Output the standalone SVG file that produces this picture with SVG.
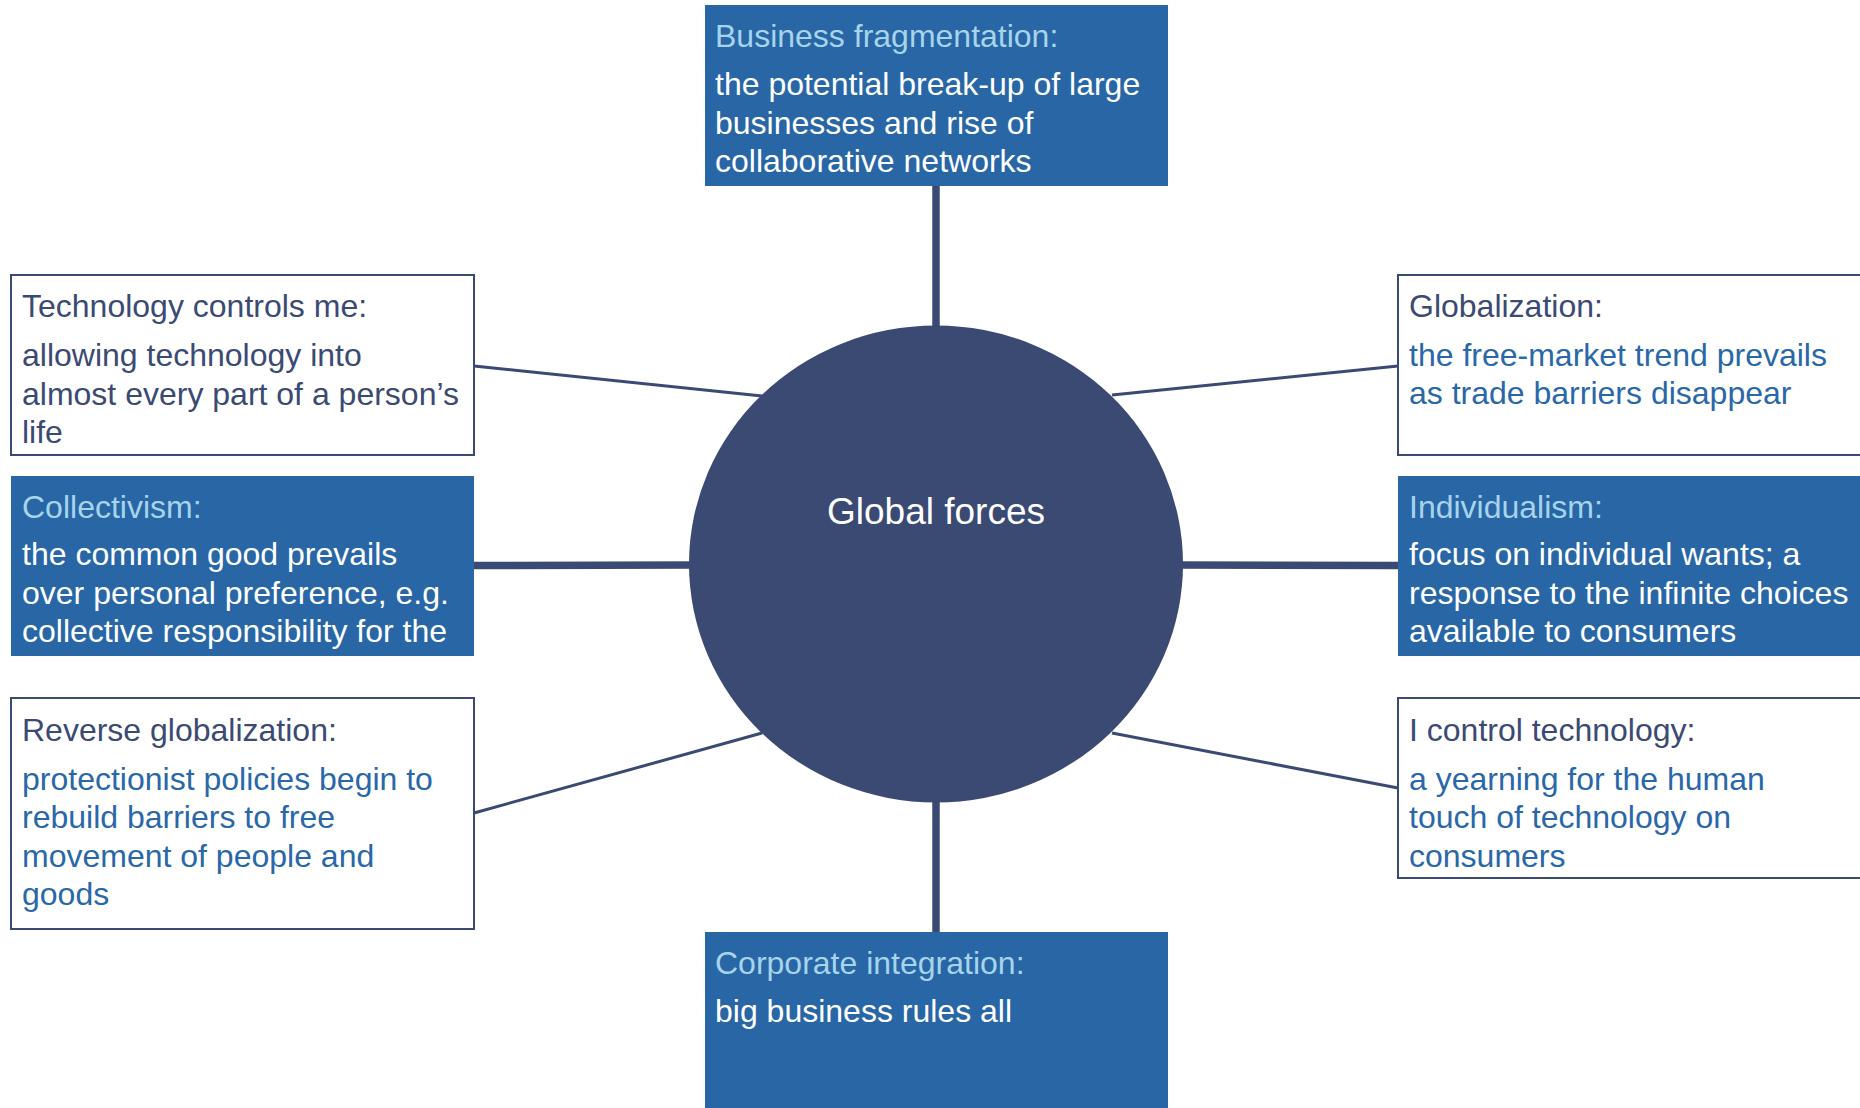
<svg xmlns="http://www.w3.org/2000/svg" width="1860" height="1108" viewBox="0 0 1860 1108">
<style>
text { font-family: "Liberation Sans", Arial, sans-serif; font-size: 32px; }
.fill { fill: #2866a6; }
.outline { fill: #ffffff; stroke: #3b4a72; stroke-width: 2; }
.tl { fill: #a6d4ea; }
.tw { fill: #ffffff; }
.tn { fill: #3b4a72; }
.tb { fill: #2a67a9; }
.thick { stroke: #3b4a72; stroke-width: 7.5; fill: none; }
.thin { stroke: #3b4a72; stroke-width: 3; fill: none; }
</style>
<rect width="1860" height="1108" fill="#ffffff"/>
<g id="connectors">
  <line class="thick" x1="936" y1="186" x2="936" y2="330"/>
  <line class="thick" x1="936" y1="798" x2="936" y2="932"/>
  <line class="thick" x1="474" y1="565.5" x2="694" y2="565"/>
  <line class="thick" x1="1178" y1="565" x2="1398" y2="565.5"/>
  <line class="thin" x1="474" y1="366" x2="762" y2="396"/>
  <line class="thin" x1="1112" y1="395" x2="1398" y2="366"/>
  <line class="thin" x1="474" y1="813" x2="762" y2="733"/>
  <line class="thin" x1="1112" y1="733" x2="1398" y2="788"/>
</g>
<g id="global-forces">
  <ellipse cx="936" cy="564" rx="247" ry="238.5" fill="#3b4a72"/>
  <text x="936" y="523.5" text-anchor="middle" class="tw" style="font-size:37px">Global forces</text>
</g>
<g id="business-fragmentation">
  <rect class="fill" x="705" y="5" width="463" height="181"/>
  <text x="715" y="47" class="tl">Business fragmentation:</text>
  <text class="tw"><tspan x="715" y="95">the potential break-up of large</tspan><tspan x="715" y="133.5">businesses and rise of</tspan><tspan x="715" y="172">collaborative networks</tspan></text>
</g>
<g id="technology-controls-me">
  <rect class="outline" x="11" y="275" width="463" height="180"/>
  <text x="22" y="317" class="tn">Technology controls me:</text>
  <text class="tn"><tspan x="22" y="366">allowing technology into</tspan><tspan x="22" y="404.5">almost every part of a person’s</tspan><tspan x="22" y="443">life</tspan></text>
</g>
<g id="collectivism">
  <rect class="fill" x="11" y="476" width="463" height="180"/>
  <text x="22" y="517.5" class="tl">Collectivism:</text>
  <text class="tw"><tspan x="22" y="565">the common good prevails</tspan><tspan x="22" y="603.5">over personal preference, e.g.</tspan><tspan x="22" y="642">collective responsibility for the</tspan></text>
</g>
<g id="reverse-globalization">
  <rect class="outline" x="11" y="698" width="463" height="231"/>
  <text x="22" y="741" class="tn">Reverse globalization:</text>
  <text class="tb"><tspan x="22" y="789.5">protectionist policies begin to</tspan><tspan x="22" y="828">rebuild barriers to free</tspan><tspan x="22" y="866.5">movement of people and</tspan><tspan x="22" y="905">goods</tspan></text>
</g>
<g id="globalization">
  <rect class="outline" x="1398" y="275" width="480" height="180"/>
  <text x="1409" y="317" class="tn">Globalization:</text>
  <text class="tb"><tspan x="1409" y="365.5">the free-market trend prevails</tspan><tspan x="1409" y="404">as trade barriers disappear</tspan></text>
</g>
<g id="individualism">
  <rect class="fill" x="1398" y="476" width="480" height="180"/>
  <text x="1409" y="517.5" class="tl">Individualism:</text>
  <text class="tw"><tspan x="1409" y="565">focus on individual wants; a</tspan><tspan x="1409" y="603.5">response to the infinite choices</tspan><tspan x="1409" y="642">available to consumers</tspan></text>
</g>
<g id="i-control-technology">
  <rect class="outline" x="1398" y="698" width="480" height="180"/>
  <text x="1409" y="741" class="tn">I control technology:</text>
  <text class="tb"><tspan x="1409" y="789.5">a yearning for the human</tspan><tspan x="1409" y="828">touch of technology on</tspan><tspan x="1409" y="866.5">consumers</tspan></text>
</g>
<g id="corporate-integration">
  <rect class="fill" x="705" y="932" width="463" height="190"/>
  <text x="715" y="973.5" class="tl">Corporate integration:</text>
  <text x="715" y="1022" class="tw">big business rules all</text>
</g>
</svg>
